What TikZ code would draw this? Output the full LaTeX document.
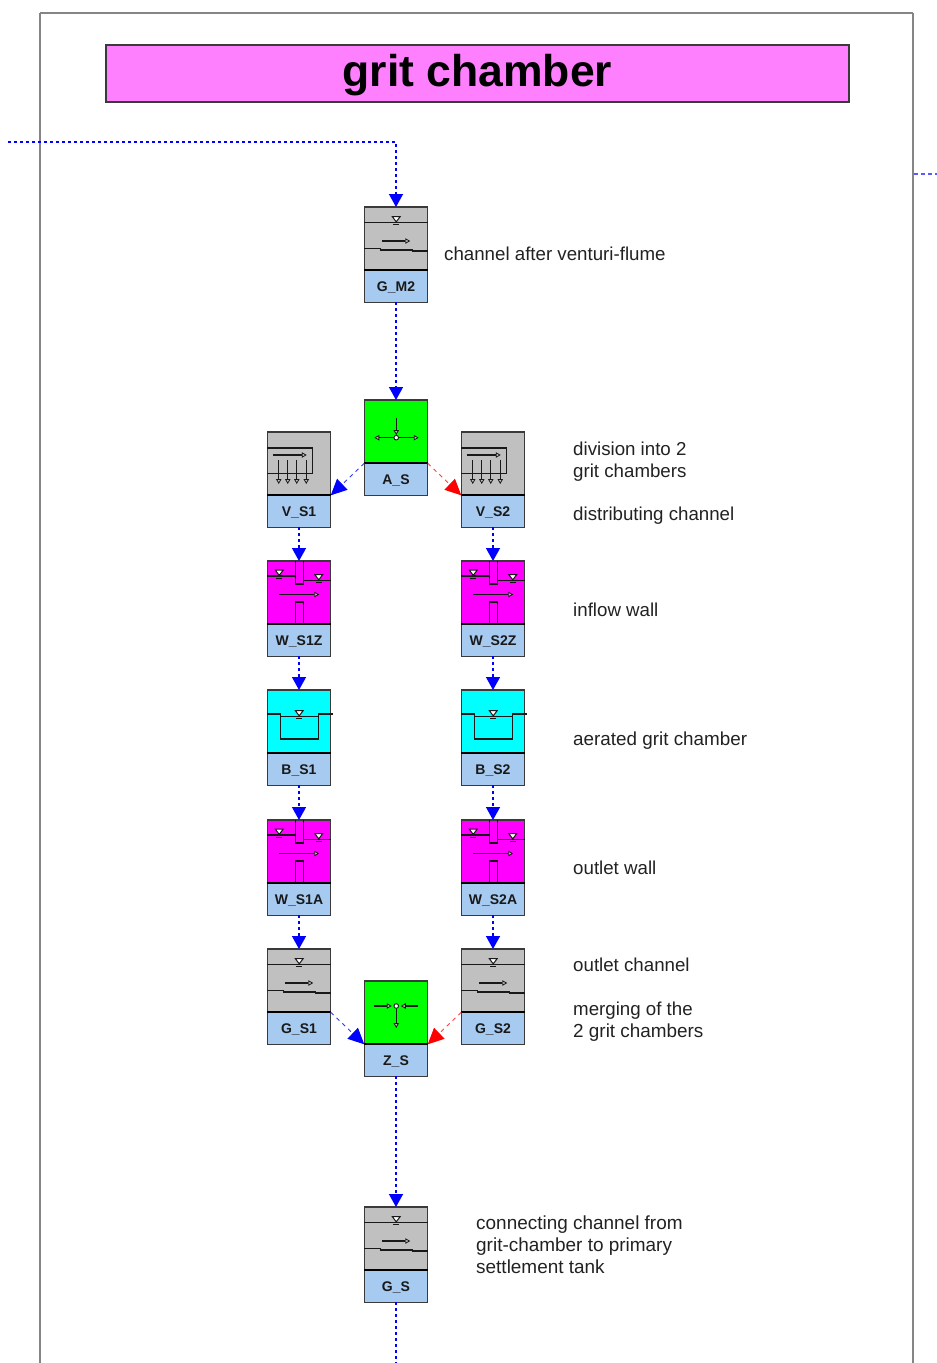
\documentclass[tikz,border=0pt]{standalone}
\usepackage{fontspec}
\setmainfont{Liberation Sans}
\usetikzlibrary{arrows.meta}
\definecolor{boxgray}{HTML}{C0C0C0}
\definecolor{labblue}{HTML}{A6CAF0}
\definecolor{titlepink}{HTML}{FF80FF}
\definecolor{boxline}{HTML}{3A3A3A}
\definecolor{framegray}{HTML}{858585}
\definecolor{txt}{HTML}{222222}
\definecolor{boxgreen}{HTML}{00FF00}
\definecolor{boxmag}{HTML}{FF00FF}
\definecolor{boxcyan}{HTML}{00FFFF}
\definecolor{flowblue}{HTML}{0000FF}
\definecolor{flowred}{HTML}{FF0000}
\tikzset{
  iconbox/.style={draw=boxline,line width=1.2pt,minimum width=63.5pt,minimum height=63.3pt,inner sep=0pt,outer sep=0pt},
  labbox/.style={draw=boxline,fill=labblue,line width=1.2pt,minimum width=63.5pt,minimum height=31.8pt,inner sep=0pt,outer sep=0pt,
    font=\fontsize{14}{16}\selectfont\bfseries,text=black!90,text height=12pt,text depth=.8pt},
  divider/.style={line width=2.2pt,black},
  flow/.style={draw=flowblue,line width=1.4pt,dash pattern=on 3pt off 3pt,-{Triangle[length=13pt,width=14pt,color=flowblue]}},
  plainflow/.style={draw=flowblue,line width=1.4pt,dash pattern=on 3pt off 3pt},
  diagblue/.style={draw=flowblue!80,line width=.9pt,dash pattern=on 4pt off 4pt,-{Triangle[length=16pt,width=15pt,color=flowblue]}},
  diagred/.style={draw=flowred!75,line width=.9pt,dash pattern=on 4pt off 4pt,-{Triangle[length=16pt,width=15pt,color=flowred]}},
  stub/.style={draw=flowblue!65,line width=1.2pt,dash pattern=on 4pt off 3pt},
  descr/.style={anchor=west,align=left,inner sep=0pt,text=txt,text height=13.5pt,text depth=0pt,font=\fontsize{18.7}{22}\selectfont},
  ln/.style={line width=1.1pt,black!90},
  ar/.style={line width=1.1pt,black!90,-{Triangle[length=5pt,width=5.5pt,fill=boxgray,line width=.8pt]}},
}
\newcommand{\wsym}[2]{%
  \filldraw[fill=white,draw=black!90,line width=1pt] (#1-4,#2-6)--(#1+4,#2-6)--(#1,#2-.6)--cycle;
  \draw[ln] (#1-2.8,#2+2.4)--(#1+2.8,#2+2.4);}
\newcommand{\iconG}{%
  \draw[ln] (0,15.5)--(63.5,15.5);
  \wsym{32}{15.5}
  \draw[ar] (18,34)--(46,34);
  \draw[ln] (0,41.5)--(16,41.5)--(16,43)--(48,43)--(48,44)--(63.5,44);}
\newcommand{\iconV}{%
  \draw[ln] (0,16)--(45.5,16)--(45.5,41.5)--(0,41.5);
  \draw[ar] (5.5,23)--(39.5,23);
  \foreach \q in {11.5,20.5,29.5,39}{\draw[ar] (\q,28)--(\q,52);}}
\newcommand{\iconW}{%
  \draw[ln] (28.5,0)--(28.5,23)--(36.5,23)--(36.5,0);
  \draw[ln] (28.5,63)--(28.5,41)--(36.5,41)--(36.5,63);
  \draw[ln] (0,15)--(28.5,15);
  \draw[ln] (36.5,19.5)--(63.5,19.5);
  \wsym{12}{15}
  \wsym{51.5}{19.5}
  \draw[ar] (12,33.5)--(52,33.5);}
\newcommand{\iconB}{%
  \draw[ln] (0,24)--(13,24)--(13,49)--(51.5,49)--(51.5,24)--(65.5,24);
  \draw[ln] (13,26.5)--(51.5,26.5);
  \wsym{32}{26.5}}
\newcommand{\iconA}{%
  \draw[ar] (32,17.7)--(32,35);
  \draw[ar] (29.5,37.7)--(10,37.7);
  \draw[ar] (34.5,37.7)--(54.5,37.7);
  \filldraw[fill=white,draw=black!90,line width=.9pt] (32,37.7) circle (2.3pt);}
\newcommand{\iconZ}{%
  \draw[ar] (10,25)--(27.5,25);
  \draw[ar] (54,25)--(36.5,25);
  \draw[ar] (32,28)--(32,47);
  \filldraw[fill=white,draw=black!90,line width=.9pt] (32,25) circle (2.3pt);}
% name, left, top, fill, label, icon
\newcommand{\blockbox}[6]{%
  \node[labbox] (#1L) at (#2+32,#3+79.2) {#5};
  \node[iconbox,fill=#4] (#1) at (#2+32,#3+31.65) {};
  \begin{scope}[shift={(#2+.25,#3)}]#6\end{scope}
  \draw[divider] (#1.south west)--(#1.south east);}
\begin{document}
\begin{tikzpicture}[x=1pt,y=-1pt]
\useasboundingbox (0,0) rectangle (937,1363);
\fill[white] (0,0) rectangle (937,1363);
% frame
\draw[framegray,line width=2.5pt] (40.2,1363)--(40.2,13);
\draw[framegray,line width=1.3pt] (40.2,13)--(913,13);
\draw[framegray,line width=2.5pt] (913,13)--(913,1363);
% title
\node[draw=boxline,fill=titlepink,line width=1.1pt,minimum width=743pt,minimum height=57pt,inner sep=0pt] (title) at (477.5,73.5) {};
\node[inner sep=0pt,font=\fontsize{44.5}{50}\selectfont\bfseries,anchor=base] (titletext) at (477.5,86) {grit chamber};
% blocks
\blockbox{GMtwo}{364}{207}{boxgray}{G\_M2}{\iconG}
\blockbox{AS}{364}{400}{boxgreen}{A\_S}{\iconA}
\blockbox{VSone}{267}{432}{boxgray}{V\_S1}{\iconV}
\blockbox{VStwo}{461}{432}{boxgray}{V\_S2}{\iconV}
\blockbox{WSoneZ}{267}{561}{boxmag}{W\_S1Z}{\iconW}
\blockbox{WStwoZ}{461}{561}{boxmag}{W\_S2Z}{\iconW}
\blockbox{BSone}{267}{690}{boxcyan}{B\_S1}{\iconB}
\blockbox{BStwo}{461}{690}{boxcyan}{B\_S2}{\iconB}
\blockbox{WSoneA}{267}{820}{boxmag}{W\_S1A}{\iconW}
\blockbox{WStwoA}{461}{820}{boxmag}{W\_S2A}{\iconW}
\blockbox{GSone}{267}{949}{boxgray}{G\_S1}{\iconG}
\blockbox{GStwo}{461}{949}{boxgray}{G\_S2}{\iconG}
\blockbox{ZS}{364}{981}{boxgreen}{Z\_S}{\iconZ}
\blockbox{GS}{364}{1207}{boxgray}{G\_S}{\iconG}
% free ends
\coordinate (inlet) at (8,142);
\coordinate (outlet) at (396,1363);
\coordinate (stubA) at (914,174);
\coordinate (stubB) at (937,174);
% connectors
\draw[flow] (inlet) -| (GMtwo.north);
\draw[flow] (GMtwoL.south) -- (AS.north);
\draw[diagblue] (AS.south west) -- (VSone.south east);
\draw[diagred] (AS.south east) -- (VStwo.south west);
\draw[flow] (VSoneL.south) -- (WSoneZ.north);
\draw[flow] (VStwoL.south) -- (WStwoZ.north);
\draw[flow] (WSoneZL.south) -- (BSone.north);
\draw[flow] (WStwoZL.south) -- (BStwo.north);
\draw[flow] (BSoneL.south) -- (WSoneA.north);
\draw[flow] (BStwoL.south) -- (WStwoA.north);
\draw[flow] (WSoneAL.south) -- (GSone.north);
\draw[flow] (WStwoAL.south) -- (GStwo.north);
\draw[diagblue] (GSone.south east) -- (ZS.south west);
\draw[diagred] (GStwo.south west) -- (ZS.south east);
\draw[flow] (ZSL.south) -- (GS.north);
\draw[plainflow] (GSL.south) -- (outlet);
\draw[stub] (stubA) -- (stubB);
% descriptions
\node[descr] (d1) at (444,254) {channel after venturi-flume};
\node[descr] (d2) at (573,449) {division into 2};
\node[descr] (d2b) at (573,471) {grit chambers};
\node[descr] (d3) at (573,514) {distributing channel};
\node[descr] (d4) at (573,610) {inflow wall};
\node[descr,font=\fontsize{18.85}{22}\selectfont] (d5) at (573,739) {aerated grit chamber};
\node[descr] (d6) at (573,868) {outlet wall};
\node[descr] (d7) at (573,965) {outlet channel};
\node[descr] (d8) at (573,1009) {merging of the};
\node[descr,font=\fontsize{18.9}{22}\selectfont] (d8b) at (573,1031) {2 grit chambers};
\node[descr,font=\fontsize{18.95}{22}\selectfont] (d9) at (476,1223) {connecting channel from};
\node[descr,font=\fontsize{18.95}{22}\selectfont] (d9b) at (476,1245) {grit-chamber to primary};
\node[descr,font=\fontsize{18.95}{22}\selectfont] (d9c) at (476,1267) {settlement tank};
\end{tikzpicture}
\end{document}
